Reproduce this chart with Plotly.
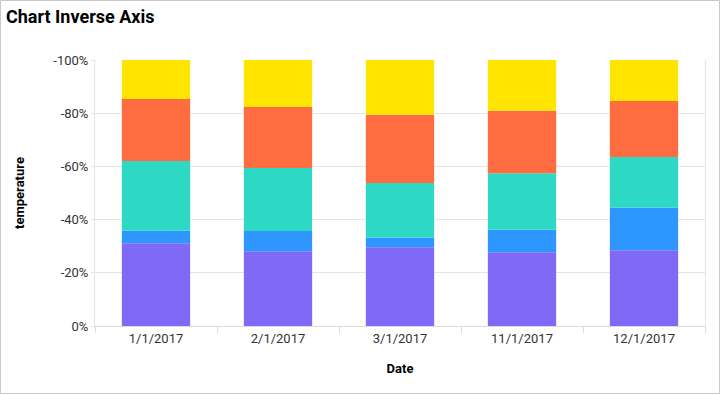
import plotly.graph_objects as go

dates = ["1/1/2017", "2/1/2017", "3/1/2017", "11/1/2017", "12/1/2017"]
# share of each series in each column (percent)
s1 = [31.1, 28.1, 29.6, 27.7, 28.5]
s2 = [4.7, 7.6, 3.7, 8.5, 16.0]
s3 = [26.2, 23.7, 20.5, 21.2, 19.0]
s4 = [23.3, 22.9, 25.6, 23.5, 21.1]
s5 = [14.7, 17.7, 20.6, 19.1, 15.4]
series = [s1, s2, s3, s4, s5]
colors = ["#8069F7", "#2E97FF", "#2DD9C5", "#FF6C40", "#FFE500"]
tick_vals = [0, -20, -40, -60, -80, -100]
tick_text = ["0%", "-20%", "-40%", "-60%", "-80%", "-100%"]

fig = go.Figure()
for vals, c in zip(series, colors):
    fig.add_trace(go.Bar(x=dates, y=[-v for v in vals], marker=dict(color=c, line=dict(width=0)),
                         showlegend=False))

W, H = 720, 394
L, R, T, B = 95, 15, 60, 68
pw, ph = W - L - R, H - T - B

fig.update_layout(
    width=W, height=H, barmode="relative", bargap=0.44,
    margin=dict(l=L, r=R, t=T, b=B),
    paper_bgcolor="white", plot_bgcolor="white",
    font=dict(family="Roboto", size=12, color="#333333"),
    title=dict(text="<b>Chart Inverse Axis</b>", x=6 / W, xref="container", xanchor="left",
               y=1 - 17 / H, yanchor="middle",
               font=dict(family="Roboto", size=18, color="#000000"), pad=dict(l=0)),
    xaxis=dict(type="category", showgrid=False, showline=True, linecolor="#dcdcdc",
               ticks="outside", tickson="boundaries", ticklen=6, tickcolor="#dcdcdc",
               tickfont=dict(size=13, color="#333333"),
               title=dict(text="<b>Date</b>", font=dict(size=13, color="#000000"), standoff=19)),
    yaxis=dict(range=[0, -100], tickvals=tick_vals, ticktext=tick_text,
               showgrid=True, gridcolor="#e4e4e4", zeroline=False,
               showline=True, mirror=True, linecolor="#e4e4e4",
               ticks="outside", ticklen=3, tickcolor="#e4e4e4",
               tickfont=dict(size=13, color="#333333"),
               title=dict(text="<b>temperature</b>", font=dict(size=13, color="#000000"), standoff=25)),
)
fig.add_shape(type="rect", xref="paper", yref="paper",
              x0=(0.5 - L) / pw, x1=(W - 0.5 - L) / pw,
              y0=-(H - 0.5 - (T + ph)) / ph, y1=1 + (T - 0.5) / ph,
              line=dict(color="#c8c8c8", width=1), fillcolor="rgba(0,0,0,0)", layer="below")

fig.write_html("out.html", config={"displayModeBar": False},
               post_script="document.body.style.margin='0';document.body.style.overflow='hidden';")
